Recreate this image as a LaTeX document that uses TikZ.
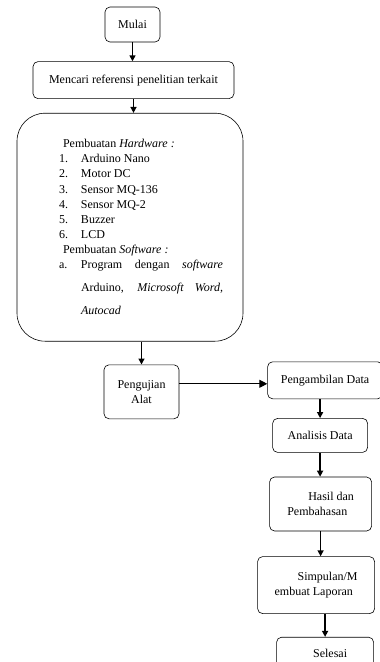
\documentclass[tikz,border=0pt]{standalone}
\usepackage{fontspec}
\setmainfont{Liberation Serif}
\usetikzlibrary{positioning,arrows.meta}
\tikzset{
  box/.style={draw, rounded corners=5pt, line width=0.6pt, inner sep=2pt, align=center},
  flow/.style={-{Triangle[length=6pt,width=6pt]}, line width=1.4pt}}

\begin{document}
\begin{tikzpicture}[x=1pt, y=-1pt, font=\fontsize{12}{15.2}\selectfont]
  \useasboundingbox (0,0) rectangle (380,662);
  \clip (0,0) rectangle (380,662);

  \node[box, minimum width=55pt, minimum height=35pt] (mulai) at (132.5,24.5) {Mulai};
  \node[box, below=19pt of mulai, xshift=1pt, minimum width=201pt, minimum height=37pt] (cari) {Mencari referensi penelitian terkait};
  \node[box, below=14pt of cari, xshift=-3.5pt, rounded corners=28pt, minimum width=226pt, minimum height=228pt,
        text width=218pt, inner sep=4pt, align=justify] (hw) {%
    {\leftskip=38pt \rightskip=16pt \tolerance=10000 \hyphenpenalty=10000 \exhyphenpenalty=10000
    \hspace*{4pt}Pembuatan \textit{Hardware :}\par
    \makebox[22pt][l]{1.}Arduino Nano\par
    \makebox[22pt][l]{2.}Motor DC\par
    \makebox[22pt][l]{3.}Sensor MQ-136\par
    \makebox[22pt][l]{4.}Sensor MQ-2\par
    \makebox[22pt][l]{5.}Buzzer\par
    \makebox[22pt][l]{6.}LCD\par
    \hspace*{4pt}Pembuatan \textit{Software :}\par
    \vspace*{-8pt}
    {\baselineskip=23pt \hangindent=22pt \hangafter=1
    \makebox[22pt][l]{a.}Program dengan \textit{software}\linebreak Arduino, \textit{Microsoft Word,}\linebreak \textit{Autocad}\par}
    \vspace*{14pt}}};
  \node[box, below=23pt of hw, xshift=11.5pt, minimum width=75pt, minimum height=54pt] (uji) {Pengujian\\Alat};
  \node[box, right=88pt of uji, yshift=11.5pt, minimum width=115pt, minimum height=37pt] (ambil) {Pengambilan Data};
  \node[box, below=19pt of ambil, xshift=-5pt, minimum width=95pt, minimum height=34pt] (analisis) {Analisis Data};
  \node[box, below=24pt of analisis, xshift=0.5pt, minimum width=102pt, minimum height=54pt, align=left] (hasil) {\hspace*{21pt}Hasil dan\\Pembahasan};
  \node[box, below=25pt of hasil, xshift=-4.5pt, minimum width=117pt, minimum height=57pt, align=left] (simp) {\hspace*{23pt}Simpulan/M\\embuat Laporan};
  \node[box, below=23pt of simp, xshift=9pt, minimum width=97pt, minimum height=32pt] (selesai) {\hspace*{10pt}Selesai};

  \draw[flow] (mulai.south) -- (mulai.south |- cari.north);
  \draw[flow] (cari.south) -- (cari.south |- hw.north);
  \draw[flow] (hw.south -| uji.north) -- (uji.north);
  \draw[flow, line width=1pt, -{Triangle[length=8pt,width=8pt]}] ([yshift=8pt]uji.east) -- ([yshift=8pt]uji.east -| ambil.west);
  \draw[flow] (ambil.south -| analisis.north) -- (analisis.north);
  \draw[flow] (analisis.south) -- (analisis.south |- hasil.north);
  \draw[flow] (hasil.south) -- (hasil.south |- simp.north);
  \draw[flow] (simp.south -| selesai.north) -- (selesai.north);
\end{tikzpicture}
\end{document}
